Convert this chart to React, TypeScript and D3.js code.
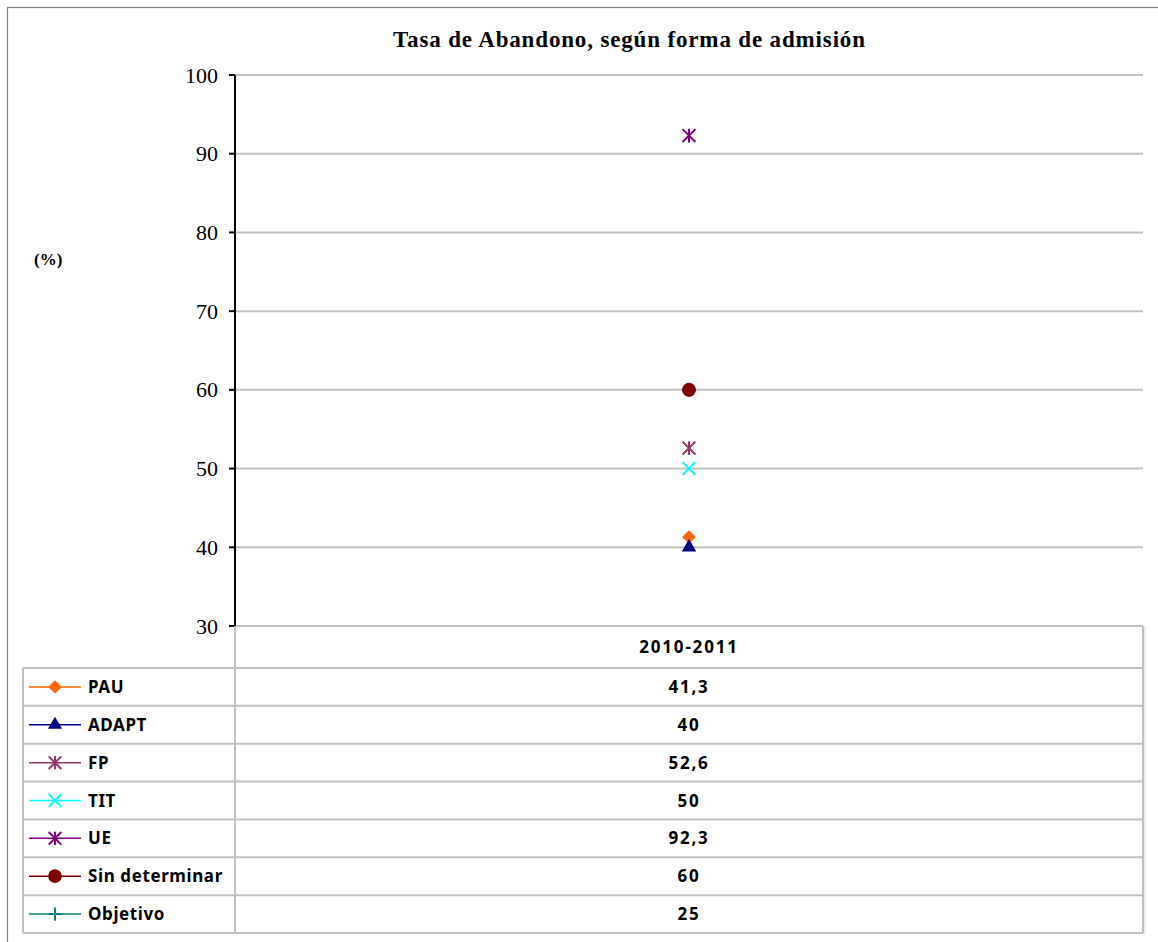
import React from "react";
import * as d3 from "d3";

const categories = ["2010-2011"];
const seriesNames = ["PAU", "ADAPT", "FP", "TIT", "UE", "Sin determinar", "Objetivo"];
const seriesValues = [41.3, 40, 52.6, 50, 92.3, 60, 25];
const seriesLabels = ["41,3", "40", "52,6", "50", "92,3", "60", "25"];
const seriesColors = ["#FF6600", "#000080", "#993366", "#00FFFF", "#800080", "#800000", "#008080"];
const seriesMarkers = ["diamond", "triangle", "star", "x", "star", "circle", "plus"];
const yTicks = [30, 40, 50, 60, 70, 80, 90, 100];

const W = 1158;
const H = 942;
const plotLeft = 235;
const plotRight = 1143;
const plotTop = 75;
const plotBottom = 626;
const tableLeft = 23;
const headerBottom = 668;
const tableBottom = 933;

function markerPath(type: string, scale: number): string {
  if (type === "triangle") return d3.symbol(d3.symbolTriangle, 90 * scale)()!;
  if (type === "circle") return d3.symbol(d3.symbolCircle, 155 * scale)()!;
  const r = 6.8 * Math.sqrt(scale);
  const p = d3.path();
  if (type === "diamond") {
    p.moveTo(0, -r); p.lineTo(r, 0); p.lineTo(0, r); p.lineTo(-r, 0); p.closePath();
    return p.toString();
  }
  if (type === "x" || type === "star") {
    p.moveTo(-r * 0.95, -r * 0.95); p.lineTo(r * 0.95, r * 0.95);
    p.moveTo(-r * 0.95, r * 0.95); p.lineTo(r * 0.95, -r * 0.95);
  }
  if (type === "star") {
    p.moveTo(0, -r); p.lineTo(0, r);
  }
  if (type === "plus") {
    p.moveTo(-r, 0); p.lineTo(r, 0);
    p.moveTo(0, -r); p.lineTo(0, r);
  }
  return p.toString();
}

function Marker({ type, color, x, y, scale }: { type: string; color: string; x: number; y: number; scale: number }) {
  const filled = type === "diamond" || type === "triangle" || type === "circle";
  return (
    <path
      d={markerPath(type, scale)}
      transform={`translate(${x},${y})`}
      fill={filled ? color : "none"}
      stroke={color}
      strokeWidth={filled ? 0 : 2}
    />
  );
}

export default function App() {
  const y = d3.scaleLinear().domain([30, 100]).range([plotBottom, plotTop]);
  const x = d3.scaleBand().domain(categories).range([plotLeft, plotRight]);
  const rows = d3.scaleBand().domain(seriesNames).range([headerBottom, tableBottom]);
  const cx = (c: string) => x(c)! + x.bandwidth() / 2;

  const gridColor = "#C0C0C0";
  const sans = "'Noto Sans', 'Open Sans', sans-serif";
  const serif = "'Liberation Serif', 'Times New Roman', serif";

  return (
    <svg width={W} height={H} style={{ position: "absolute", left: 0, top: 0, background: "#fff" }}>
      <rect x={0} y={0} width={W} height={H} fill="#fff" />
      {/* outer frame */}
      <rect x={7.5} y={7.5} width={W + 10} height={H + 10} fill="none" stroke="#808080" strokeWidth={1.2} />

      {/* title */}
      <text x={629} y={47} textAnchor="middle" fontFamily={serif} fontWeight="bold" fontSize={23} textLength={472} lengthAdjust="spacing">
        Tasa de Abandono, según forma de admisión
      </text>
      <text x={34} y={265} fontFamily={serif} fontWeight="bold" fontSize={17}>(%)</text>

      {/* gridlines */}
      {yTicks.map((t) => (
        <line key={t} x1={plotLeft} x2={plotRight} y1={y(t)} y2={y(t)} stroke={gridColor} strokeWidth={2} />
      ))}

      {/* y axis */}
      <line x1={plotLeft} x2={plotLeft} y1={plotTop} y2={plotBottom} stroke="#000" strokeWidth={2} />
      {yTicks.map((t) => (
        <g key={t}>
          <line x1={plotLeft - 6} x2={plotLeft} y1={y(t)} y2={y(t)} stroke="#000" strokeWidth={2} />
          <text x={218} y={y(t) + 7.5} textAnchor="end" fontFamily={serif} fontSize={22}>{t}</text>
        </g>
      ))}

      {/* table */}
      <line x1={plotRight} x2={plotRight} y1={plotBottom} y2={tableBottom} stroke={gridColor} strokeWidth={2} />
      <line x1={plotRight + 2} x2={plotRight + 2} y1={plotBottom} y2={tableBottom + 2} stroke="#DADADA" strokeWidth={1} />
      <line x1={plotLeft} x2={plotLeft} y1={plotBottom} y2={tableBottom} stroke={gridColor} strokeWidth={2} />
      <line x1={tableLeft} x2={tableLeft} y1={headerBottom} y2={tableBottom} stroke={gridColor} strokeWidth={2} />
      <line x1={tableLeft} x2={plotRight} y1={headerBottom} y2={headerBottom} stroke={gridColor} strokeWidth={2} />
      {seriesNames.map((s) => (
        <line key={s} x1={tableLeft} x2={plotRight} y1={rows(s)! + rows.bandwidth()} y2={rows(s)! + rows.bandwidth()} stroke={gridColor} strokeWidth={2} />
      ))}
      {categories.map((c) => (
        <text key={c} x={cx(c)} y={(plotBottom + headerBottom) / 2 + 6} textAnchor="middle" fontFamily={sans} fontWeight="bold" fontSize={17} letterSpacing={1.8}>
          {c}
        </text>
      ))}

      {seriesNames.map((s, i) => {
        const ry = rows(s)! + rows.bandwidth() / 2;
        return (
          <g key={s}>
            <line x1={29} x2={81} y1={ry} y2={ry} stroke={seriesColors[i]} strokeWidth={1.5} />
            <Marker type={seriesMarkers[i]} color={seriesColors[i]} x={55} y={ry} scale={0.95} />
            <text x={88} y={ry + 6} fontFamily={sans} fontWeight="bold" fontSize={17} letterSpacing={0.6}>{s}</text>
            <text x={cx(categories[0])} y={ry + 6} textAnchor="middle" fontFamily={sans} fontWeight="bold" fontSize={17} letterSpacing={1.8}>
              {seriesLabels[i]}
            </text>
          </g>
        );
      })}

      {/* markers */}
      {seriesNames.map((s, i) => {
        const v = seriesValues[i];
        if (v < 30 || v > 100) return null;
        return <Marker key={s} type={seriesMarkers[i]} color={seriesColors[i]} x={cx(categories[0])} y={y(v)} scale={1} />;
      })}
    </svg>
  );
}
